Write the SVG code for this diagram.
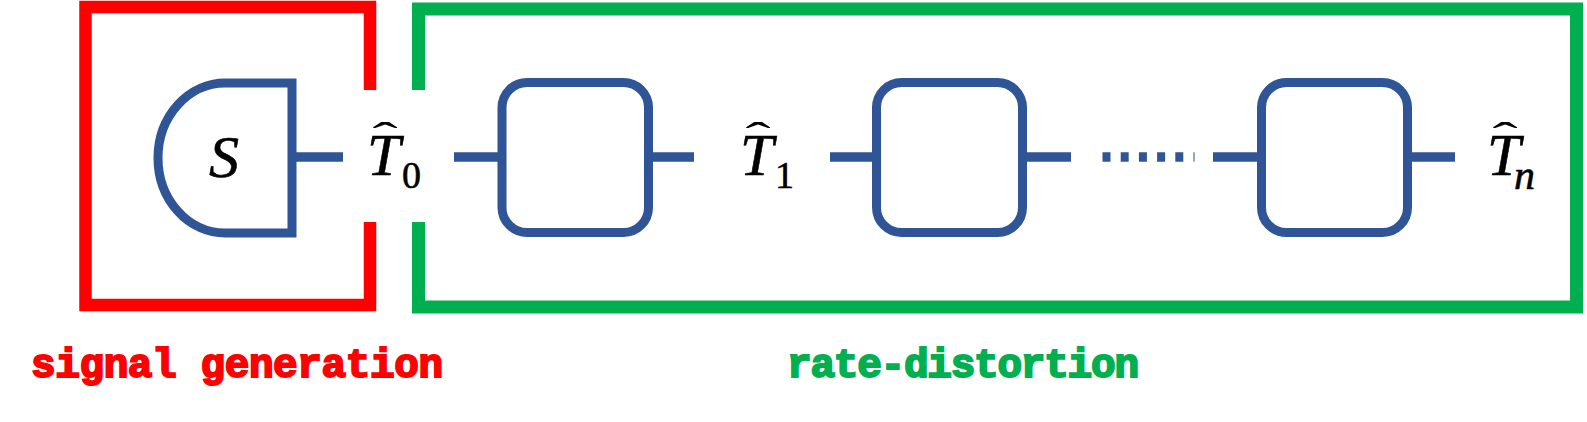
<svg xmlns="http://www.w3.org/2000/svg" width="1587" height="422" viewBox="0 0 1587 422">
<style>
.blue{fill:none;stroke:#2F5597;stroke-width:9}
.wire{stroke:#2F5597;stroke-width:9.5;fill:none}
.math{font-family:"Liberation Serif","DejaVu Serif",serif;fill:#000;stroke:#000;stroke-width:0.6}
.it{font-style:italic}
.hat{font-family:"Liberation Serif",serif;font-size:58px;text-anchor:middle;fill:#000}
.lbl{font-family:"Liberation Mono","DejaVu Sans Mono",monospace;font-weight:bold;font-size:41px;stroke-width:2}
</style>
<rect width="1587" height="422" fill="#fff"/>
<g id="region-signal">
<path d="M370,90 V7 H85.5 V305 H370 V222" fill="none" stroke="#FF0000" stroke-width="12.5"/>
<text class="lbl" x="31" y="377" fill="#FF0000" stroke="#FF0000" textLength="412">signal generation</text>
</g>
<g id="region-rd">
<path d="M418.5,90 V9 H1576.5 V307 H418.5 V222" fill="none" stroke="#00B050" stroke-width="13"/>
<text class="lbl" x="787" y="377" fill="#00B050" stroke="#00B050" textLength="352">rate-distortion</text>
</g>
<g id="connectors">
<line class="wire" x1="296" y1="157" x2="343" y2="157"/>
<line class="wire" x1="454" y1="157" x2="502" y2="157"/>
<line class="wire" x1="648" y1="157" x2="694" y2="157"/>
<line class="wire" x1="830" y1="157" x2="876" y2="157"/>
<line class="wire" x1="1022" y1="157" x2="1071" y2="157"/>
<line class="wire" x1="1102.5" y1="157" x2="1194.5" y2="157" stroke-dasharray="8 10.2"/>
<line class="wire" x1="1213" y1="157" x2="1261" y2="157"/>
<line class="wire" x1="1407" y1="157" x2="1455" y2="157"/>
</g>
<g id="source">
<path class="blue" d="M292,83 H225 A67,75 0 0 0 225,233 H292 Z"/>
<text class="math it" x="209" y="177" font-size="60">S</text>
</g>
<g id="box1"><rect class="blue" x="502" y="82.5" width="146.5" height="150" rx="25"/></g>
<g id="box2"><rect class="blue" x="876.5" y="82.5" width="146" height="150" rx="25"/></g>
<g id="box3"><rect class="blue" x="1261.5" y="82.5" width="146" height="150" rx="25"/></g>
<g id="T0">
<text class="math it" x="367" y="175" font-size="60">T</text>
<text class="math" x="402" y="188" font-size="38">0</text>
<text class="hat" transform="translate(385,150) scale(1.3,0.7)">ˆ</text>
</g>
<g id="T1">
<text class="math it" x="740" y="175" font-size="60">T</text>
<text class="math" x="775" y="188" font-size="38">1</text>
<text class="hat" transform="translate(758,150) scale(1.3,0.7)">ˆ</text>
</g>
<g id="Tn">
<text class="math it" x="1487" y="175" font-size="60">T</text>
<text class="math it" x="1514" y="189" font-size="42">n</text>
<text class="hat" transform="translate(1505,150) scale(1.3,0.7)">ˆ</text>
</g>
</svg>
